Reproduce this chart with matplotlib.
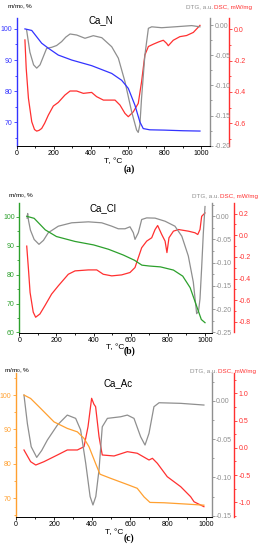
import matplotlib
matplotlib.use("Agg")
import matplotlib.pyplot as plt
from matplotlib.ticker import AutoMinorLocator, MultipleLocator, FormatStrFormatter

plt.rcParams['font.family'] = ['Liberation Sans', 'DejaVu Sans']
plt.rcParams['axes.unicode_minus'] = False

# ---------------- data ----------------
# Panel (a) Ca_N
tg_a_T = [43, 80, 134, 170, 224, 297, 405, 514, 568, 604, 640, 667, 685, 720, 800, 900, 993]
tg_a = [100, 99.5, 95.4, 93.8, 91.6, 90.0, 88.2, 85.7, 83.5, 80.9, 75.5, 70.1, 68.0, 67.6, 67.5, 67.3, 67.2]
dtg_a_T = [52, 70, 90, 107, 125, 161, 188, 215, 242, 265, 288, 324, 369, 414, 460, 514, 550, 586,
           622, 649, 658, 667, 676, 694, 713, 731, 785, 857, 948, 993]
dtg_a = [-0.008, -0.045, -0.066, -0.0715, -0.066, -0.0386, -0.037, -0.034, -0.0276, -0.02, -0.0149,
         -0.0166, -0.022, -0.0177, -0.021, -0.036, -0.055, -0.094, -0.1435, -0.174, -0.178, -0.165,
         -0.121, -0.050, -0.0055, -0.003, -0.0045, -0.003, -0.001, -0.003]
dsc_a_T = [43, 50, 62, 80, 95, 107, 120, 134, 150, 170, 197, 224, 260, 288, 324, 360, 405, 432, 469,
           532, 559, 586, 604, 631, 658, 676, 694, 713, 740, 770, 794, 812, 821, 848, 884, 920, 957, 993]
dsc_a = [-0.068, -0.25, -0.44, -0.59, -0.64, -0.65, -0.645, -0.633, -0.6, -0.548, -0.49, -0.467, -0.42,
         -0.394, -0.394, -0.409, -0.403, -0.43, -0.452, -0.452, -0.484, -0.537, -0.558, -0.527, -0.473,
         -0.335, -0.164, -0.11, -0.095, -0.08, -0.07, -0.09, -0.105, -0.07, -0.047, -0.04, -0.02, 0.025]

# Panel (b) Ca_Cl
tg_b_T = [40, 80, 140, 200, 300, 400, 480, 560, 620, 660, 700, 760, 830, 880, 920, 950, 980, 1000]
tg_b = [100.2, 99.5, 95.5, 93.2, 91.5, 90.3, 88.8, 86.8, 85.0, 83.3, 83.0, 82.7, 81.6, 79.5, 75.5, 70.0, 64.5, 63.4]
dtg_b_T = [42, 45, 50, 60, 80, 106, 130, 156, 210, 282, 372, 444, 498, 533, 569, 596, 614, 623, 641,
           659, 686, 731, 785, 838, 875, 910, 937, 955, 965, 973, 982, 991, 1000]
dtg_b = [-0.004, 0.006, -0.01, -0.03, -0.05, -0.0605, -0.052, -0.0355, -0.0214, -0.0141, -0.012, -0.0141,
         -0.0214, -0.027, -0.027, -0.0227, -0.0355, -0.0498, -0.0355, -0.007, -0.0035, -0.004, -0.0107,
         -0.0214, -0.043, -0.0855, -0.142, -0.21, -0.205, -0.178, -0.11, -0.0355, 0.021]
dsc_b_T = [40, 50, 58, 75, 88, 111, 138, 174, 210, 264, 300, 372, 417, 452, 498, 551, 596, 623, 641,
           659, 686, 713, 731, 745, 767, 785, 795, 806, 830, 857, 910, 946, 961, 973, 982, 1000]
dsc_b = [-0.1, -0.33, -0.528, -0.71, -0.757, -0.727, -0.65, -0.543, -0.467, -0.36, -0.329, -0.32, -0.32,
         -0.36, -0.375, -0.366, -0.344, -0.298, -0.206, -0.115, -0.054, -0.023, 0.053, 0.09, 0.007, -0.054,
         -0.16, -0.023, 0.038, 0.053, 0.038, 0.023, 0.007, 0.053, 0.175, 0.206]

# Panel (c) Ca_Ac
tg_c_T = [42, 77, 130, 200, 270, 323, 358, 384, 419, 442, 498, 586, 638, 674, 705, 779, 902, 989]
tg_c = [100, 99, 96.1, 92.2, 90.3, 89.3, 87.4, 85, 80.1, 77, 75.8, 74, 72.9, 70.4, 68.8, 68.7, 68.3, 68.0]
dtg_c_T = [42, 60, 80, 109, 135, 165, 218, 270, 314, 340, 367, 390, 405, 420, 437, 454, 481, 551, 586,
           621, 656, 679, 700, 726, 753, 867, 989]
dtg_c = [0.0074, -0.03, -0.06, -0.0739, -0.065, -0.0513, -0.0317, -0.0187, -0.023, -0.038, -0.0817,
         -0.125, -0.136, -0.125, -0.09, -0.034, -0.023, -0.0209, -0.0187, -0.023, -0.047, -0.0578,
         -0.0425, -0.0078, -0.0026, -0.0034, -0.0056]
dsc_c_T = [42, 77, 104, 147, 218, 270, 323, 358, 379, 398, 410, 419, 437, 454, 516, 586, 638, 700, 718,
           744, 796, 867, 919, 937, 989]
dsc_c = [-0.04, -0.255, -0.316, -0.255, -0.132, -0.04, -0.04, 0.02, 0.387, 0.908, 0.8, 0.754, 0.204,
         -0.132, -0.15, -0.071, -0.10, -0.224, -0.193, -0.285, -0.53, -0.714, -0.897, -0.99, -1.08]

titles = ["Ca_N", "Ca_Cl", "Ca_Ac"]
captions = ["(a)", "(b)", "(c)"]
xticks = [0, 200, 400, 600, 800, 1000]

GRAY = '#8f8f8f'
RED = '#ff3030'
TG_COLORS = ['#3333ff', '#2ca02c', '#ffa030']

W, H = 258, 550
fig = plt.figure(figsize=(W / 100, H / 100), dpi=100)

# layout per panel in pixels
layout = [
    dict(l=17, r=210.3, t=18, b=146, red=229.3, xmax=1049,
         tg=(62.4, 103.5), dtg=(-0.2005, 0.0116), dsc=(-0.745, 0.072),
         tgstep=10, dtgstep=0.05, dscstep=0.2, cap_y=169, title_xy=(101, 20),
         lab_y=7, mm_x=7, dtg_end=213, dsc_start=214.5),
    dict(l=19.3, r=211.7, t=203, b=332.5, red=234.3, xmax=1036,
         tg=(60, 104.8), dtg=(-0.2506, 0.0286), dsc=(-0.898, 0.298),
         tgstep=10, dtgstep=0.05, dscstep=0.2, cap_y=351, title_xy=(103, 208),
         lab_y=196, mm_x=8, dtg_end=219, dsc_start=219.5),
    dict(l=16, r=211.7, t=373, b=516.7, red=234.3, xmax=1030,
         tg=(64.65, 106.4), dtg=(-0.1513, 0.0362), dsc=(-1.264, 1.372),
         tgstep=10, dtgstep=0.05, dscstep=0.5, cap_y=538, title_xy=(118, 383),
         lab_y=371, mm_x=4, dtg_end=217, dsc_start=217.5),
]
tg_data = [(tg_a_T, tg_a), (tg_b_T, tg_b), (tg_c_T, tg_c)]
dtg_data = [(dtg_a_T, dtg_a), (dtg_b_T, dtg_b), (dtg_c_T, dtg_c)]
dsc_data = [(dsc_a_T, dsc_a), (dsc_b_T, dsc_b), (dsc_c_T, dsc_c)]

FS = 5.0
for i, L in enumerate(layout):
    left = L['l'] / W
    width = (L['r'] - L['l']) / W
    bottom = 1 - L['b'] / H
    height = (L['b'] - L['t']) / H
    ax = fig.add_axes([left, bottom, width, height])
    ax2 = ax.twinx()
    ax3 = ax.twinx()
    c = TG_COLORS[i]

    ax3.plot(*dsc_data[i], color=RED, lw=0.9)
    ax2.plot(*dtg_data[i], color=GRAY, lw=0.9)
    ax.plot(*tg_data[i], color=c, lw=0.9)
    ax.set_zorder(3); ax.patch.set_visible(False)
    ax2.set_zorder(2)
    ax3.set_zorder(1)

    ax.set_xlim(0, L['xmax'])
    ax.set_xticks(xticks)
    ax.xaxis.set_minor_locator(AutoMinorLocator(2))
    ax.set_ylim(*L['tg'])
    ax2.set_ylim(*L['dtg'])
    ax3.set_ylim(*L['dsc'])

    # host
    for s in ['top', 'right']:
        ax.spines[s].set_visible(False)
    ax.spines['left'].set_color(c)
    ax.spines['left'].set_linewidth(1.0)
    ax.spines['bottom'].set_linewidth(0.7)
    ax.yaxis.set_major_locator(MultipleLocator(L['tgstep']))
    ax.yaxis.set_minor_locator(AutoMinorLocator(2))
    ax.tick_params(axis='y', which='both', colors=c, labelsize=FS, length=2, width=0.6, pad=1.2)
    ax.tick_params(axis='y', which='minor', length=1.2)
    ax.tick_params(axis='x', which='both', labelsize=FS, length=2, width=0.6, pad=1.0)
    ax.tick_params(axis='x', which='minor', length=1.2)
    ax.set_xlabel("T, °C", fontsize=6, labelpad=0.5)

    # gray DTG axis
    for s in ['top', 'left', 'bottom']:
        ax2.spines[s].set_visible(False)
    ax2.spines['right'].set_color(GRAY)
    ax2.spines['right'].set_linewidth(1.0)
    ax2.yaxis.set_major_locator(MultipleLocator(L['dtgstep']))
    ax2.yaxis.set_major_formatter(FormatStrFormatter('%.2f'))
    ax2.yaxis.set_minor_locator(AutoMinorLocator(2))
    ax2.tick_params(axis='y', which='both', colors=GRAY, labelsize=FS, length=2, width=0.6, pad=1.2)
    ax2.tick_params(axis='y', which='minor', length=1.2)

    # red DSC axis
    for s in ['top', 'left', 'bottom']:
        ax3.spines[s].set_visible(False)
    ax3.spines['right'].set_position(('axes', (L['red'] - L['l']) / (L['r'] - L['l'])))
    ax3.spines['right'].set_color(RED)
    ax3.spines['right'].set_linewidth(1.0)
    ax3.yaxis.set_major_locator(MultipleLocator(L['dscstep']))
    ax3.yaxis.set_major_formatter(FormatStrFormatter('%.1f'))
    ax3.yaxis.set_minor_locator(AutoMinorLocator(2))
    ax3.tick_params(axis='y', which='both', colors=RED, labelsize=FS, length=2, width=0.6, pad=1.2)
    ax3.tick_params(axis='y', which='minor', length=1.2)

    # texts
    ty = 1 - L['lab_y'] / H
    fig.text(L['mm_x'] / W, ty, "m/m$_0$, %", fontsize=4.6, va='center', ha='left')
    fig.text(L['dtg_end'] / W, ty, "DTG, a.u.", fontsize=4.5, color=GRAY, va='center', ha='right')
    fig.text(L['dsc_start'] / W, ty, "DSC, mW/mg", fontsize=4.5, color=RED, va='center', ha='left')
    fig.text(L['title_xy'][0] / W, 1 - L['title_xy'][1] / H, titles[i], fontsize=7, ha='center', va='center')
    fig.text(129 / W, 1 - L['cap_y'] / H, captions[i], fontsize=7, fontweight='bold',
             family='Liberation Serif', ha='center', va='center')

fig.savefig("out.png", dpi=100)
